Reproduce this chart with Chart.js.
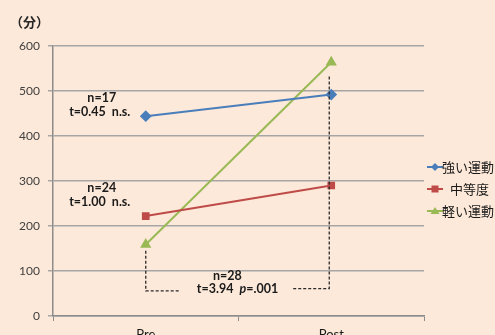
<!DOCTYPE html>
<html>
<head>
<meta charset="utf-8">
<script src="https://cdn.jsdelivr.net/npm/chart.js@4.4.1/dist/chart.umd.min.js"></script>
<style>
  html, body { margin: 0; padding: 0; background: #fde9d9; }
  #wrap { position: relative; width: 495px; height: 335px; overflow: hidden; }
</style>
</head>
<body>
<div id="wrap"><canvas id="c" width="495" height="335"></canvas></div>
<script>
// Exercise-intensity groups: minutes before and after
const categories = ['Pre', 'Post'];
const strongValues = [444, 492];
const moderateValues = [222, 290];
const lightValues = [159, 564];
const seriesNames = ['強い運動', '中等度', '軽い運動'];
const yTicks = [0, 100, 200, 300, 400, 500, 600];
const unitLabel = '（分）';
const statStrong = ['n=17', 't=0.45  n.s.'];
const statModerate = ['n=24', 't=1.00  n.s.'];
const statLight = ['n=28', 't=3.94  ', 'p', '=.001'];

const BLUE = '#4a7ebb', RED = '#be4b48', GREEN = '#98b954';
const CJK = '"Noto Sans CJK JP", sans-serif';
const LAT = 'Lato, "Noto Sans", sans-serif';

// Draws the unit label, statistic notes, dashed brackets and legend
const notes = {
  id: 'notes',
  afterDatasetsDraw(chart) {
    const ctx = chart.ctx;
    const x = chart.scales.x, y = chart.scales.y;
    const xPre = x.getPixelForValue(0), xPost = x.getPixelForValue(1);
    const span = xPost - xPre;
    ctx.save();

    // unit label
    ctx.fillStyle = '#262626';
    ctx.font = 'bold 13px ' + CJK;
    ctx.textAlign = 'left';
    ctx.textBaseline = 'middle';
    ctx.fillText(unitLabel, 10, 22);

    // dashed brackets for the light-exercise comparison
    ctx.strokeStyle = '#2a2a2a';
    ctx.lineWidth = 1.3;
    ctx.setLineDash([3, 2]);
    ctx.beginPath();
    ctx.moveTo(xPre, y.getPixelForValue(145));
    ctx.lineTo(xPre, y.getPixelForValue(56));
    ctx.lineTo(xPre + span * 0.185, y.getPixelForValue(56));
    ctx.moveTo(xPre + span * 0.795, y.getPixelForValue(61));
    ctx.lineTo(xPost - 2, y.getPixelForValue(61));
    ctx.lineTo(xPost - 2, y.getPixelForValue(536));
    ctx.stroke();
    ctx.setLineDash([]);

    // statistic notes
    const F = '12.5px ';
    ctx.fillStyle = '#1a1a1a';
    ctx.font = 'bold ' + F + LAT;
    ctx.textAlign = 'center';
    ctx.fillText(statStrong[0], xPre - 44, y.getPixelForValue(484));
    ctx.fillText(statStrong[1], xPre - 46, y.getPixelForValue(454));
    ctx.fillText(statModerate[0], xPre - 44, y.getPixelForValue(284));
    ctx.fillText(statModerate[1], xPre - 46, y.getPixelForValue(254));
    ctx.fillText(statLight[0], xPre + span * 0.44, y.getPixelForValue(89));
    // t line with italic p
    const yl = y.getPixelForValue(59);
    const parts = [[statLight[1], 'bold ' + F], [statLight[2], 'italic bold ' + F], [statLight[3], 'bold ' + F]];
    let total = 0;
    parts.forEach(p => { ctx.font = p[1] + LAT; total += ctx.measureText(p[0]).width; });
    let cx = xPre + span * 0.495 - total / 2;
    ctx.textAlign = 'left';
    parts.forEach(p => { ctx.font = p[1] + LAT; ctx.fillText(p[0], cx, yl); cx += ctx.measureText(p[0]).width; });

    // legend
    const rows = [
      { y: 167, color: BLUE, shape: 'diamond', textX: 442 },
      { y: 189, color: RED, shape: 'square', textX: 450 },
      { y: 211, color: GREEN, shape: 'triangle', textX: 442 }
    ];
    ctx.font = '13px ' + CJK;
    ctx.textBaseline = 'middle';
    rows.forEach((r, i) => {
      ctx.strokeStyle = r.color;
      ctx.fillStyle = r.color;
      ctx.lineWidth = 2;
      ctx.beginPath();
      ctx.moveTo(427, r.y);
      ctx.lineTo(443, r.y);
      ctx.stroke();
      ctx.beginPath();
      if (r.shape === 'diamond') {
        ctx.moveTo(435, r.y - 4); ctx.lineTo(439, r.y); ctx.lineTo(435, r.y + 4); ctx.lineTo(431, r.y);
      } else if (r.shape === 'square') {
        ctx.rect(431.5, r.y - 3.5, 7, 7);
      } else {
        ctx.moveTo(435, r.y - 4); ctx.lineTo(439.5, r.y + 3); ctx.lineTo(430.5, r.y + 3);
      }
      ctx.closePath();
      ctx.fill();
      ctx.fillStyle = '#1a1a1a';
      ctx.fillText(seriesNames[i], r.textX, r.y);
    });
    ctx.restore();
  }
};

new Chart(document.getElementById('c'), {
  type: 'line',
  data: {
    labels: categories,
    datasets: [
      { label: seriesNames[0], data: strongValues, borderColor: BLUE, backgroundColor: BLUE,
        pointStyle: 'rectRot', pointRadius: 4.5, borderWidth: 2 },
      { label: seriesNames[1], data: moderateValues, borderColor: RED, backgroundColor: RED,
        pointStyle: 'rect', pointRadius: 4, borderWidth: 2 },
      { label: seriesNames[2], data: lightValues, borderColor: GREEN, backgroundColor: GREEN,
        pointStyle: 'triangle', pointRadius: 4.5, borderWidth: 2 }
    ]
  },
  options: {
    responsive: false,
    animation: false,
    layout: { padding: { top: 46, right: 71, bottom: 0, left: 0 } },
    plugins: { legend: { display: false }, tooltip: { enabled: false } },
    scales: {
      x: {
        type: 'category',
        offset: true,
        grid: { display: true, offset: true, drawOnChartArea: false, tickLength: 5, color: '#8c8c8c' },
        border: { color: '#8c8c8c', width: 1.5 },
        ticks: { color: '#1a1a1a', font: { family: LAT, size: 13 }, padding: 6 },
        afterFit(s) { s.height = 19; }
      },
      y: {
        min: 0, max: 600,
        afterBuildTicks(s) { s.ticks = yTicks.map(v => ({ value: v })); },
        grid: { color: '#a6a6a6', lineWidth: 1.5, tickLength: 5 },
        border: { color: '#8c8c8c', width: 1.5 },
        ticks: { color: '#404040', font: { family: LAT, size: 12 }, padding: 8 },
        afterFit(s) { s.width = 53; }
      }
    }
  },
  plugins: [notes]
});
</script>
</body>
</html>
